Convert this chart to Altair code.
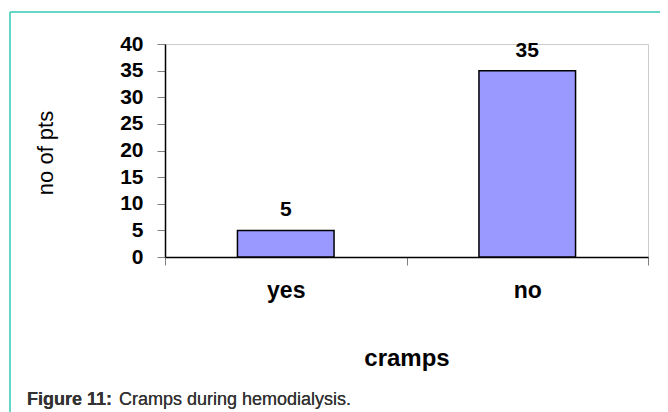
import altair as alt
import pandas as pd

categories = ["yes", "no"]
values = [5, 35]
y_ticks = [0, 5, 10, 15, 20, 25, 30, 35, 40]

df = pd.DataFrame({"cramps": categories, "pts": values})

FONT = "Liberation Sans"
W, H = 483, 213

base = alt.Chart(df)

x_enc = alt.X("cramps:N", sort=categories,
              scale=alt.Scale(paddingInner=0, paddingOuter=0),
              axis=alt.Axis(title="cramps", labelAngle=0, tickBand="extent",
                            tickSize=8, tickColor="#808080", domainColor="black", domainWidth=1.5,
                            labelFont=FONT, labelFontSize=23, labelFontWeight="bold", labelColor="black",
                            labelBaseline="alphabetic", labelPadding=32,
                            titleFont=FONT, titleFontSize=24, titleFontWeight="bold", titleColor="black",
                            titleBaseline="alphabetic", titleY=108, titleX=W / 2, titleAlign="center"))
y_enc = alt.Y("pts:Q", scale=alt.Scale(domain=[0, 40], nice=False),
              axis=alt.Axis(title="no of pts", values=y_ticks, grid=False, labelOverlap=False,
                            tickSize=8, tickColor="#808080", domainColor="black", domainWidth=1.5,
                            labelFont=FONT, labelFontSize=21, labelFontWeight="bold", labelColor="black",
                            labelPadding=14,
                            titleFont=FONT, titleFontSize=22, titleFontWeight="normal", titleColor="black",
                            titleAngle=270, titleBaseline="alphabetic", titleAlign="center",
                            titleX=-113, titleY=H / 2 + 2))

bars = base.mark_bar(color="#9999FF", stroke="black", strokeWidth=1.5, width={"band": 0.4}).encode(
    x=x_enc, y=y_enc)

labels = base.mark_text(font=FONT, fontSize=21, fontWeight="bold", color="black",
                        baseline="alphabetic", dy=-14).encode(
    x=x_enc, y=y_enc, text="pts:Q")

teal = "#5CD3C3"
top_line = base.mark_rule(color=teal, strokeWidth=1.5).encode(
    x=alt.value(-155), x2=alt.value(510), y=alt.value(-32))
left_line = base.mark_rule(color=teal, strokeWidth=1.5).encode(
    x=alt.value(-155), y=alt.value(-32), y2=alt.value(380))

cap1 = base.mark_text(text="Figure 11:", font=FONT, fontSize=18, fontWeight="bold",
                      color="#333333", align="left", baseline="alphabetic").encode(
    x=alt.value(-138), y=alt.value(361))
cap2 = base.mark_text(text="Cramps during hemodialysis.", font=FONT, fontSize=18,
                      color="#333333", align="left", baseline="alphabetic").encode(
    x=alt.value(-46), y=alt.value(361))

chart = alt.layer(bars, labels, top_line, left_line, cap1, cap2).properties(
    width=W, height=H,
    autosize=alt.AutoSizeParams(type="none"),
    padding={"left": 157, "top": 36, "right": 12, "bottom": 155},
    background="white",
).configure_view(stroke="#cccccc", strokeWidth=1)

chart.save("out.html", embed_options={"renderer": "svg", "actions": False})
